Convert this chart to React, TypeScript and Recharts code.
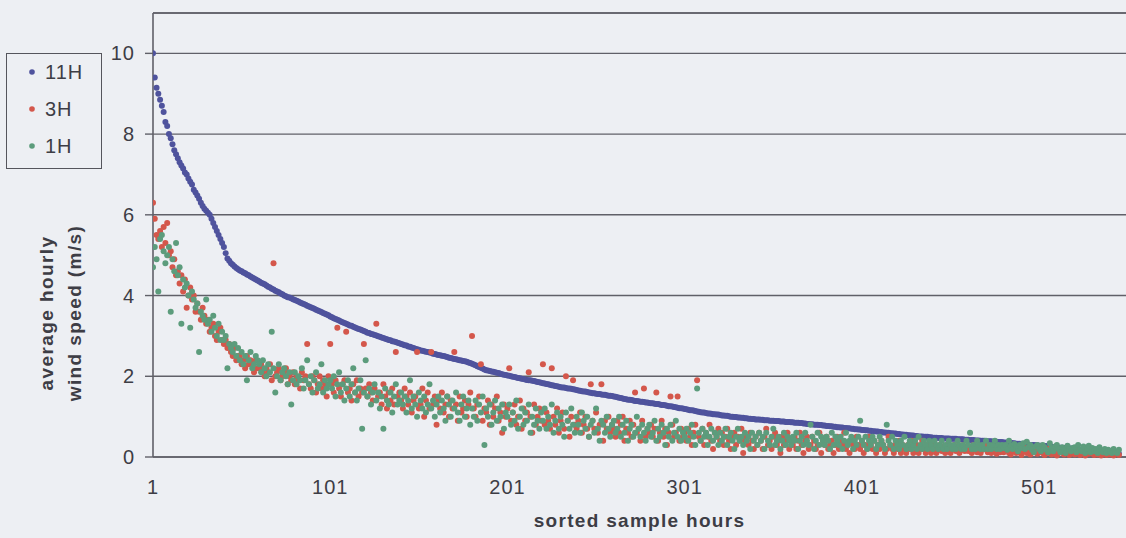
import React from "react";
import {
  ScatterChart,
  Scatter,
  XAxis,
  YAxis,
  CartesianGrid,
  ReferenceLine,
} from "recharts";

const FONT = '"Liberation Sans", Arial, sans-serif';
const TEXT = "#3d3d45";
const GRID = "#606068";
const BG = "#edeff3";

const xTicks = [1, 101, 201, 301, 401, 501];
const yTicks = [0, 2, 4, 6, 8, 10];
const seriesNames = ["11H", "3H", "1H"];
const seriesColors = ["#4f539d", "#d4574b", "#5c9c7c"];

// 11H, sorted descending
const h11 = [
  10.0, 9.4, 9.15, 9.0, 8.85, 8.7, 8.55, 8.3, 8.2, 8.0,
  7.9, 7.75, 7.6, 7.5, 7.4, 7.3, 7.22, 7.15, 7.05, 7.0,
  6.9, 6.82, 6.75, 6.62, 6.55, 6.48, 6.4, 6.3, 6.22, 6.15,
  6.1, 6.05, 6.0, 5.9, 5.8, 5.7, 5.6, 5.5, 5.4, 5.3,
  5.2, 5.05, 4.92, 4.86, 4.8, 4.76, 4.72, 4.68, 4.65, 4.62,
  4.6, 4.57, 4.55, 4.52, 4.5, 4.47, 4.45, 4.42, 4.4, 4.37,
  4.35, 4.32, 4.3, 4.28, 4.25, 4.22, 4.2, 4.17, 4.15, 4.12,
  4.1, 4.08, 4.05, 4.03, 4.0, 3.98, 3.96, 3.95, 3.93, 3.91,
  3.89, 3.87, 3.85, 3.83, 3.81, 3.79, 3.77, 3.75, 3.73, 3.71,
  3.69, 3.67, 3.65, 3.63, 3.61, 3.59, 3.57, 3.55, 3.53, 3.51,
  3.48, 3.46, 3.44, 3.42, 3.4, 3.38, 3.36, 3.34, 3.32, 3.3, 3.28, 3.26, 3.25, 3.23, 3.21, 3.19, 3.17, 3.16, 3.14, 3.12,
  3.1, 3.08, 3.07, 3.05, 3.04, 3.02, 3.01, 2.99, 2.98, 2.96, 2.95, 2.93, 2.92, 2.9, 2.89, 2.87, 2.86, 2.85, 2.83, 2.82,
  2.8, 2.79, 2.77, 2.76, 2.74, 2.73, 2.71, 2.7, 2.68, 2.67, 2.66, 2.64, 2.63, 2.62, 2.61, 2.6, 2.59, 2.58, 2.56, 2.55,
  2.54, 2.53, 2.52, 2.51, 2.5, 2.49, 2.48, 2.46, 2.45, 2.44, 2.43, 2.42, 2.41, 2.4, 2.39, 2.38, 2.37, 2.36, 2.34, 2.33,
  2.31, 2.29, 2.27, 2.25, 2.23, 2.21, 2.19, 2.17, 2.15, 2.14, 2.13, 2.12, 2.11, 2.1, 2.09, 2.08, 2.06, 2.05, 2.04, 2.03,
  2.02, 2.01, 2.0, 1.99, 1.98, 1.97, 1.96, 1.95, 1.94, 1.93, 1.92, 1.91, 1.9, 1.9, 1.89, 1.88, 1.87, 1.86, 1.85, 1.84,
  1.83, 1.82, 1.81, 1.8, 1.79, 1.78, 1.77, 1.76, 1.75, 1.74, 1.73, 1.72, 1.72, 1.71, 1.7, 1.7, 1.69, 1.68, 1.67, 1.66,
  1.65, 1.64, 1.63, 1.62, 1.62, 1.61, 1.6, 1.59, 1.58, 1.58, 1.57, 1.56, 1.56, 1.55, 1.54, 1.54, 1.53, 1.52, 1.52, 1.51,
  1.5, 1.49, 1.48, 1.47, 1.46, 1.45, 1.44, 1.43, 1.42, 1.42, 1.41, 1.4, 1.39, 1.39, 1.38, 1.37, 1.37, 1.36, 1.35, 1.35,
  1.34, 1.33, 1.33, 1.32, 1.31, 1.31, 1.3, 1.29, 1.29, 1.28, 1.27, 1.26, 1.26, 1.25, 1.24, 1.23, 1.22, 1.21, 1.21, 1.2,
  1.19, 1.18, 1.17, 1.16, 1.16, 1.15, 1.14, 1.13, 1.12, 1.11, 1.1, 1.1, 1.09, 1.08, 1.08, 1.07, 1.06, 1.06, 1.05, 1.05,
  1.04, 1.03, 1.03, 1.02, 1.02, 1.01, 1.0, 1.0, 0.99, 0.99, 0.98, 0.98, 0.97, 0.97, 0.96, 0.96, 0.95, 0.95, 0.94, 0.94,
  0.93, 0.93, 0.93, 0.92, 0.92, 0.91, 0.91, 0.91, 0.9, 0.9, 0.9, 0.89, 0.89, 0.89, 0.88, 0.88, 0.88, 0.87, 0.87, 0.87,
  0.86, 0.86, 0.85, 0.85, 0.85, 0.84, 0.84, 0.83, 0.83, 0.82, 0.82, 0.81, 0.81, 0.8, 0.8, 0.8, 0.79, 0.79, 0.78, 0.78,
  0.77, 0.77, 0.76, 0.76, 0.75, 0.75, 0.74, 0.74, 0.73, 0.73, 0.72, 0.72, 0.71, 0.71, 0.7, 0.7, 0.69, 0.69, 0.68, 0.68,
  0.67, 0.67, 0.66, 0.66, 0.65, 0.65, 0.64, 0.64, 0.63, 0.63, 0.62, 0.62, 0.61, 0.61, 0.6, 0.6, 0.59, 0.59, 0.58, 0.58,
  0.57, 0.57, 0.56, 0.56, 0.55, 0.55, 0.54, 0.54, 0.53, 0.53, 0.52, 0.52, 0.51, 0.51, 0.51, 0.5, 0.5, 0.5, 0.49, 0.49,
  0.48, 0.48, 0.48, 0.47, 0.47, 0.47, 0.46, 0.46, 0.46, 0.46, 0.45, 0.45, 0.45, 0.45, 0.44, 0.44, 0.44, 0.44, 0.43, 0.43,
  0.43, 0.42, 0.42, 0.42, 0.41, 0.41, 0.41, 0.4, 0.4, 0.4, 0.39, 0.39, 0.39, 0.39, 0.38, 0.38, 0.38, 0.37, 0.37, 0.37,
  0.36, 0.36, 0.35, 0.35, 0.35, 0.34, 0.34, 0.33, 0.33, 0.33, 0.32, 0.32, 0.31, 0.31, 0.31, 0.3, 0.3, 0.3, 0.29, 0.29,
  0.28, 0.28, 0.27, 0.27, 0.27, 0.26, 0.26, 0.25, 0.25, 0.24, 0.24, 0.23, 0.23, 0.23, 0.22, 0.22, 0.21, 0.21, 0.21, 0.2,
  0.2, 0.19, 0.19, 0.18, 0.18, 0.17, 0.17, 0.16, 0.16, 0.15, 0.15, 0.14, 0.14, 0.13, 0.13, 0.12, 0.12, 0.11, 0.11, 0.1,
  0.1, 0.09, 0.09, 0.08, 0.08, 0.08,
];

// 3H, same hours
const h3 = [
  6.3, 5.9, 5.5, 5.4, 5.6, 5.2, 5.7, 5.3, 5.8, 5.0, 5.1, 4.7, 4.9, 4.5, 4.6, 4.3, 4.5, 4.1, 4.4, 3.7,
  4.0, 4.2, 3.9, 4.0, 3.6, 3.8, 3.6, 3.4, 3.7, 3.5, 3.3, 3.4, 3.1, 3.2, 3.3, 3.0, 2.9, 3.1, 3.2, 2.9,
  2.8, 2.9, 2.7, 2.8, 2.6, 2.5, 2.7, 2.4, 2.5, 2.5, 2.3, 2.4, 2.2, 2.5, 2.3, 2.4, 2.3, 2.1, 2.4, 2.2,
  2.2, 2.3, 2.1, 2.0, 2.2, 2.1, 2.3, 1.9, 4.8, 2.0, 2.1, 2.2, 1.9, 2.0, 2.1, 2.2, 1.8, 2.0, 1.9, 2.1,
  1.8, 2.0, 1.9, 1.7, 2.1, 1.9, 2.0, 2.8, 1.8, 1.7, 2.0, 1.9, 1.6, 1.8, 2.0, 1.7, 1.9, 1.8, 1.5, 2.0,
  2.8, 1.8, 1.6, 1.9, 3.2, 1.7, 1.5, 1.8, 1.9, 3.1, 1.6, 1.7, 1.4, 1.8, 1.6, 1.9, 1.5, 1.7, 1.6, 2.8,
  1.7, 1.5, 1.8, 1.6, 1.4, 1.7, 3.3, 1.5, 1.6, 1.3, 1.8, 1.5, 1.2, 1.6, 1.4, 1.7, 1.3, 2.6, 1.5, 1.6,
  1.4, 1.2, 1.7, 1.5, 1.3, 1.6, 1.1, 1.4, 1.5, 2.6, 1.2, 1.3, 1.7, 1.0, 1.4, 1.6, 1.2, 2.6, 1.3, 1.5,
  0.8, 1.4, 1.2, 1.6, 1.1, 1.3, 1.5, 1.0, 1.4, 1.2, 2.6, 1.3, 0.9, 1.5, 1.1, 1.2, 1.4, 1.0, 1.3, 1.6,
  3.0, 1.2, 1.0, 1.3, 1.5, 2.3, 0.9, 1.2, 1.1, 1.4, 0.8, 1.3, 1.0, 1.2, 1.5, 0.9, 1.1, 0.6, 1.3, 1.0,
  1.2, 2.2, 0.9, 1.1, 1.3, 0.8, 1.0, 1.4, 0.7, 1.2, 0.9, 1.1, 2.1, 1.0, 0.6, 1.3, 0.8, 1.0, 1.2, 0.9,
  2.3, 0.8, 1.1, 0.9, 0.7, 2.2, 1.0, 0.8, 1.2, 0.6, 0.9, 1.1, 0.7, 2.0, 0.9, 0.5, 1.0, 1.9, 0.8, 0.7,
  0.9, 1.1, 0.6, 0.8, 1.0, 0.7, 0.5, 1.8, 0.9, 0.7, 1.1, 0.6, 0.8, 1.8, 0.4, 0.9, 0.7, 1.0, 0.6, 0.8,
  0.7, 0.5, 0.9, 0.6, 0.8, 1.0, 0.4, 0.7, 0.6, 0.9, 0.5, 0.8, 1.6, 0.6, 0.7, 0.4, 0.9, 1.7, 0.5, 0.7,
  0.6, 0.8, 0.5, 0.7, 1.6, 0.4, 0.6, 0.9, 0.5, 0.7, 0.3, 0.6, 1.5, 0.8, 0.5, 0.6, 1.5, 0.4, 0.7, 0.5,
  0.6, 0.4, 0.7, 0.5, 0.3, 0.6, 0.8, 1.9, 0.5, 0.4, 0.7, 0.3, 0.6, 0.5, 0.8, 0.4, 0.2, 0.6, 0.5, 0.7,
  0.4, 0.6, 0.3, 0.5, 0.7, 0.4, 0.2, 0.5, 0.6, 0.3, 0.5, 0.4, 0.7, 0.1, 0.4, 0.5, 0.3, 0.6, 0.4, 0.2,
  0.5, 0.3, 0.6, 0.4, 0.2, 0.5, 0.7, 0.3, 0.4, 0.2, 0.5, 0.6, 0.3, 0.4, 0.1, 0.5, 0.3, 0.4, 0.6, 0.2,
  0.4, 0.3, 0.5, 0.2, 0.4, 0.6, 0.3, 0.1, 0.4, 0.5, 0.2, 0.3, 0.5, 0.4, 0.2, 0.3, 0.6, 0.1, 0.4, 0.3,
  0.5, 0.2, 0.3, 0.4, 0.1, 0.3, 0.5, 0.2, 0.4, 0.3, 0.6, 0.2, 0.3, 0.1, 0.4, 0.3, 0.2, 0.5, 0.3, 0.2,
  0.4, 0.1, 0.3, 0.2, 0.5, 0.3, 0.2, 0.4, 0.1, 0.3, 0.2, 0.4, 0.3, 0.1, 0.2, 0.5, 0.3, 0.2, 0.1, 0.3,
  0.2, 0.4, 0.1, 0.3, 0.2, 0.1, 0.3, 0.2, 0.4, 0.1, 0.2, 0.3, 0.1, 0.2, 0.4, 0.2, 0.1, 0.3, 0.2, 0.1,
  0.3, 0.2, 0.1, 0.2, 0.3, 0.15, 0.25, 0.1, 0.3, 0.2, 0.1, 0.25, 0.3, 0.15, 0.2, 0.1, 0.25, 0.3, 0.15, 0.2,
  0.15, 0.25, 0.1, 0.3, 0.2, 0.12, 0.22, 0.1, 0.18, 0.25, 0.3, 0.12, 0.2, 0.1, 0.22, 0.15, 0.08, 0.2, 0.12, 0.25,
  0.12, 0.18, 0.22, 0.1, 0.06, 0.2, 0.14, 0.1, 0.24, 0.12, 0.05, 0.16, 0.22, 0.1, 0.14, 0.06, 0.2, 0.12, 0.15, 0.08,
  0.12, 0.2, 0.1, 0.05, 0.15, 0.1, 0.22, 0.06, 0.12, 0.16, 0.04, 0.1, 0.2, 0.12, 0.06, 0.14, 0.1, 0.05, 0.12, 0.15,
  0.06, 0.12, 0.15, 0.05, 0.1, 0.2, 0.04, 0.12, 0.08, 0.14, 0.1, 0.05, 0.12, 0.06, 0.1, 0.04, 0.12, 0.08, 0.05, 0.1,
  0.06, 0.12, 0.04, 0.08, 0.1, 0.05,
];

// 1H, same hours
const h1 = [
  4.7, 5.2, 4.9, 4.1, 5.4, 5.5, 5.1, 4.8, 5.0, 5.2, 3.6, 4.9, 4.6, 5.3, 4.5, 4.7, 3.3, 4.4, 4.2, 4.3,
  4.0, 3.2, 4.1, 3.9, 3.7, 3.8, 2.6, 3.6, 3.5, 3.4, 3.9, 3.3, 3.4, 3.1, 3.5, 3.2, 3.0, 3.3, 2.9, 3.1,
  2.9, 3.0, 2.2, 2.8, 2.7, 2.6, 2.8, 2.5, 2.7, 2.4, 2.6, 2.3, 2.5, 1.9, 2.4, 2.6, 2.2, 2.3, 2.5, 2.4,
  2.3, 2.1, 2.4, 2.2, 2.0, 2.3, 2.1, 3.1, 2.2, 1.6, 2.0, 2.3, 1.9, 2.1, 2.2, 2.0, 1.8, 2.1, 1.3, 1.9,
  2.1, 1.8, 2.0, 1.9, 2.2, 1.7, 1.9, 2.4, 1.8, 2.0, 1.6, 1.9, 2.1, 1.7, 1.8, 2.3, 1.6, 1.9, 1.7, 1.8,
  1.9, 1.7, 2.0, 1.5, 1.8, 2.1, 1.6, 1.8, 1.4, 1.7, 1.9, 1.5, 1.8, 2.2, 1.6, 1.4, 1.7, 1.9, 0.7, 1.6,
  2.4, 1.5, 1.7, 1.3, 1.6, 1.8, 1.4, 1.6, 1.2, 1.5, 0.7, 1.7, 1.4, 1.3, 1.6, 1.1, 1.5, 1.8, 1.3, 1.4,
  1.6, 1.3, 1.5, 1.1, 1.4, 1.9, 1.2, 1.5, 1.3, 1.0, 1.6, 1.4, 1.2, 1.5, 1.1, 1.3, 1.8, 1.2, 1.4, 1.0,
  1.3, 1.5, 1.1, 1.4, 1.2, 0.9, 1.5, 1.3, 1.0, 1.4, 1.2, 1.6, 1.1, 0.9, 1.3, 1.5, 1.0, 1.2, 1.4, 0.8,
  1.2, 1.0, 1.4, 0.9, 1.3, 1.1, 1.5, 0.3, 1.2, 1.0, 1.3, 0.8, 1.1, 1.4, 0.9, 1.2, 1.0, 1.3, 0.7, 1.1,
  1.0, 1.3, 0.8, 1.1, 0.9, 1.4, 0.7, 1.0, 1.2, 0.8, 1.1, 0.9, 1.3, 0.6, 1.0, 0.8, 1.2, 0.9, 0.7, 1.1,
  0.9, 1.2, 0.7, 1.0, 0.8, 1.3, 0.6, 0.9, 1.1, 0.7, 1.0, 0.8, 0.5, 1.1, 0.9, 0.7, 1.2, 0.8, 0.6, 1.0,
  0.8, 0.6, 1.1, 0.9, 0.7, 1.0, 0.5, 0.8, 0.9, 0.6, 1.2, 0.7, 0.4, 0.9, 0.8, 0.6, 1.0, 0.7, 0.5, 0.8,
  0.9, 0.6, 0.7, 1.0, 0.5, 0.8, 0.6, 0.9, 0.4, 0.7, 0.8, 0.5, 0.6, 1.0, 0.7, 0.5, 0.8, 0.6, 0.4, 0.7,
  0.8, 0.5, 0.6, 0.9, 0.4, 0.7, 0.5, 0.8, 0.6, 0.3, 0.7, 0.5, 0.8, 0.4, 0.6, 0.9, 0.5, 0.7, 0.4, 0.6,
  0.5, 0.7, 0.4, 0.6, 0.8, 0.5, 0.3, 1.7, 0.6, 0.4, 0.7, 0.5, 0.6, 0.3, 0.5, 0.7, 0.4, 0.6, 0.5, 0.3,
  0.6, 0.4, 0.5, 0.7, 0.3, 0.5, 0.6, 0.4, 0.2, 0.5, 0.7, 0.4, 0.5, 0.3, 0.6, 0.4, 0.5, 0.2, 0.6, 0.4,
  0.5, 0.3, 0.6, 0.4, 0.5, 0.2, 0.6, 0.4, 0.3, 0.5, 0.7, 0.3, 0.4, 0.5, 0.2, 0.4, 0.6, 0.3, 0.5, 0.4,
  0.3, 0.5, 0.4, 0.6, 0.2, 0.4, 0.5, 0.3, 0.6, 0.4, 0.3, 0.8, 0.5, 0.2, 0.4, 0.6, 0.3, 0.5, 0.4, 0.3,
  0.5, 0.4, 0.2, 0.6, 0.3, 0.5, 0.4, 0.3, 0.5, 0.2, 0.4, 0.6, 0.3, 0.4, 0.5, 0.2, 0.4, 0.3, 0.5, 0.9,
  0.4, 0.3, 0.5, 0.2, 0.4, 0.3, 0.5, 0.4, 0.2, 0.3, 0.5, 0.4, 0.3, 0.2, 0.8, 0.4, 0.3, 0.5, 0.2, 0.4,
  0.3, 0.2, 0.4, 0.3, 0.5, 0.2, 0.3, 0.4, 0.2, 0.3, 0.4, 0.2, 0.5, 0.3, 0.2, 0.4, 0.3, 0.2, 0.4, 0.3,
  0.2, 0.4, 0.3, 0.2, 0.3, 0.4, 0.2, 0.3, 0.2, 0.4, 0.3, 0.2, 0.3, 0.2, 0.4, 0.3, 0.2, 0.3, 0.2, 0.4,
  0.3, 0.6, 0.2, 0.3, 0.2, 0.4, 0.3, 0.2, 0.3, 0.2, 0.4, 0.2, 0.3, 0.2, 0.3, 0.4, 0.2, 0.3, 0.2, 0.3,
  0.22, 0.3, 0.18, 0.4, 0.28, 0.2, 0.32, 0.24, 0.14, 0.3, 0.22, 0.34, 0.2, 0.38, 0.24, 0.3, 0.18, 0.12, 0.26, 0.3,
  0.2, 0.14, 0.3, 0.24, 0.18, 0.12, 0.34, 0.22, 0.14, 0.26, 0.3, 0.2, 0.12, 0.24, 0.18, 0.1, 0.28, 0.2, 0.14, 0.22,
  0.24, 0.12, 0.3, 0.18, 0.14, 0.26, 0.1, 0.2, 0.28, 0.12, 0.22, 0.14, 0.2, 0.1, 0.24, 0.16, 0.12, 0.2, 0.1, 0.18,
  0.14, 0.1, 0.2, 0.12, 0.1, 0.18,
];

const toPoints = (vals: number[]) => vals.map((v, i) => ({ x: i + 1, y: v }));
const series = [h11, h3, h1].map(toPoints);

const dot = (color: string) => (p: any) =>
  <circle cx={p.cx} cy={p.cy} r={3} fill={color} />;

function YTitle() {
  return (
    <g fontFamily={FONT} fontSize={19} fontWeight="bold" fill={TEXT} letterSpacing={1.4}>
      <text transform="translate(46,313) rotate(-90)" textAnchor="middle" dominantBaseline="central">
        average hourly
      </text>
      <text transform="translate(74,313) rotate(-90)" textAnchor="middle" dominantBaseline="central">
        wind speed (m/s)
      </text>
    </g>
  );
}

function LegendBox() {
  return (
    <div
      style={{
        position: "absolute",
        left: 6,
        top: 53,
        width: 96,
        height: 116,
        boxSizing: "border-box",
        border: "1.5px solid #55555c",
        fontFamily: FONT,
        fontSize: 20,
        color: TEXT,
        letterSpacing: 1,
      }}
    >
      {seriesNames.map((name, i) => (
        <div
          key={name}
          style={{ position: "absolute", left: 0, top: 5 + i * 37, height: 26, display: "flex", alignItems: "center" }}
        >
          <svg width={38} height={26}>
            <circle cx={25} cy={13} r={2.8} fill={seriesColors[i]} />
          </svg>
          <span>{name}</span>
        </div>
      ))}
    </div>
  );
}

export default function App() {
  return (
    <div style={{ position: "fixed", left: 0, top: 0, width: 1126, height: 538, background: BG }}>
      <ScatterChart width={1126} height={538} margin={{ top: 13, right: 0, bottom: 51, left: 0 }}>
        <CartesianGrid vertical={false} stroke={GRID} strokeWidth={1.4} />
        <ReferenceLine y={11} stroke={GRID} strokeWidth={1.4} />
        <XAxis
          type="number"
          dataKey="x"
          domain={[1, 550]}
          ticks={xTicks}
          allowDataOverflow
          tickLine={false}
          axisLine={{ stroke: GRID, strokeWidth: 1.4 }}
          tickMargin={17}
          tick={{ fill: TEXT, fontSize: 20, fontFamily: FONT, letterSpacing: 1 }}
          height={30}
          label={{
            value: "sorted sample hours",
            position: "insideBottom",
            offset: -40,
            fill: TEXT,
            fontSize: 19,
            fontWeight: "bold",
            fontFamily: FONT,
            letterSpacing: 1.3,
          }}
        />
        <YAxis
          type="number"
          dataKey="y"
          domain={[0, 11]}
          ticks={yTicks}
          width={153}
          tickSize={8}
          tickMargin={10}
          tickLine={{ stroke: GRID, strokeWidth: 1.4 }}
          axisLine={{ stroke: GRID, strokeWidth: 1.6 }}
          tick={{ fill: TEXT, fontSize: 20, fontFamily: FONT, letterSpacing: 1 }}
        />
        {series.map((data, i) => (
          <Scatter
            key={seriesNames[i]}
            name={seriesNames[i]}
            data={data}
            fill={seriesColors[i]}
            shape={dot(seriesColors[i])}
            isAnimationActive={false}
          />
        ))}
        <YTitle />
      </ScatterChart>
      <LegendBox />
    </div>
  );
}
